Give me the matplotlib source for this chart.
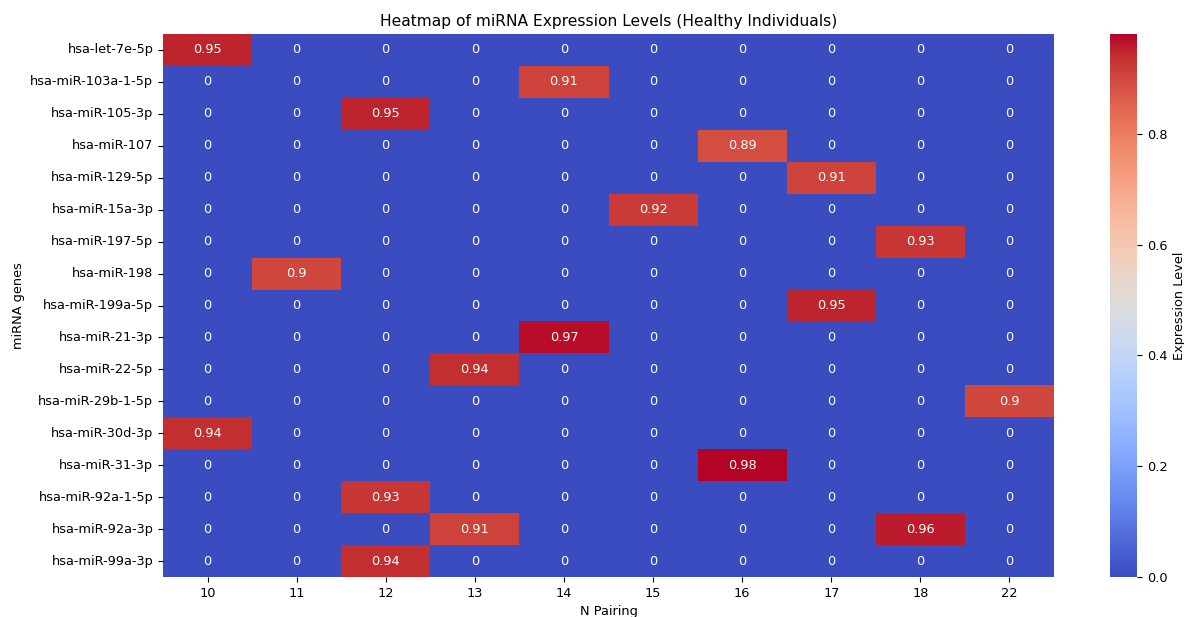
import numpy as np
import pandas as pd
import matplotlib
matplotlib.use("Agg")
import matplotlib.pyplot as plt
import seaborn as sns

genes = ["hsa-let-7e-5p", "hsa-miR-103a-1-5p", "hsa-miR-105-3p", "hsa-miR-107",
         "hsa-miR-129-5p", "hsa-miR-15a-3p", "hsa-miR-197-5p", "hsa-miR-198",
         "hsa-miR-199a-5p", "hsa-miR-21-3p", "hsa-miR-22-5p", "hsa-miR-29b-1-5p",
         "hsa-miR-30d-3p", "hsa-miR-31-3p", "hsa-miR-92a-1-5p", "hsa-miR-92a-3p",
         "hsa-miR-99a-3p"]
pairings = [10, 11, 12, 13, 14, 15, 16, 17, 18, 22]

# (gene, pairing, expression) — all other cells are 0
hits_gene = ["hsa-let-7e-5p", "hsa-miR-103a-1-5p", "hsa-miR-105-3p", "hsa-miR-107",
             "hsa-miR-129-5p", "hsa-miR-15a-3p", "hsa-miR-197-5p", "hsa-miR-198",
             "hsa-miR-199a-5p", "hsa-miR-21-3p", "hsa-miR-22-5p", "hsa-miR-29b-1-5p",
             "hsa-miR-30d-3p", "hsa-miR-31-3p", "hsa-miR-92a-1-5p", "hsa-miR-92a-3p",
             "hsa-miR-92a-3p", "hsa-miR-99a-3p"]
hits_pairing = [10, 14, 12, 16, 17, 15, 18, 11, 17, 14, 13, 22, 10, 16, 12, 13, 18, 12]
hits_value = [0.95, 0.91, 0.95, 0.89, 0.91, 0.92, 0.93, 0.90, 0.95, 0.97, 0.94, 0.90,
              0.94, 0.98, 0.93, 0.91, 0.96, 0.94]

df = pd.DataFrame(0.0, index=genes, columns=pairings)
for g, p, v in zip(hits_gene, hits_pairing, hits_value):
    df.loc[g, p] = v

plt.rcParams["font.size"] = 9.3

W, H = 1184, 617
fig = plt.figure(figsize=(W / 100, H / 100), dpi=100)
ax = fig.add_axes([163 / W, (H - 577) / H, (1054 - 163) / W, (577 - 34) / H])
cax = fig.add_axes([1110 / W, (H - 577) / H, (1137 - 1110) / W, (577 - 34) / H])
sns.heatmap(df, cmap="coolwarm", annot=True, ax=ax, cbar_ax=cax,
            cbar_kws={"label": "Expression Level"})
ax.set_title("Heatmap of miRNA Expression Levels (Healthy Individuals)")
ax.set_xlabel("N Pairing")
ax.set_ylabel("miRNA genes")
fig.savefig("out.png", dpi=100)
